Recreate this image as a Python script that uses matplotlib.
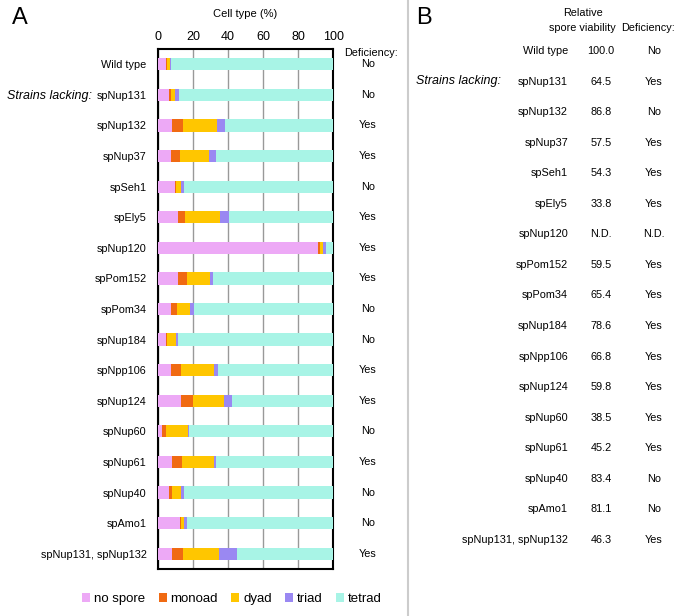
import matplotlib
matplotlib.use('Agg')
import matplotlib.pyplot as plt
from matplotlib.patches import Patch
from matplotlib.lines import Line2D
import matplotlib.transforms as mtransforms

plt.rcParams['font.family'] = ['Liberation Sans', 'DejaVu Sans']

strains = ['Wild type', 'spNup131', 'spNup132', 'spNup37', 'spSeh1', 'spEly5',
           'spNup120', 'spPom152', 'spPom34', 'spNup184', 'spNpp106', 'spNup124',
           'spNup60', 'spNup61', 'spNup40', 'spAmo1', 'spNup131, spNup132']

# panel A: cell types (%)
no_spore = [4.7, 6.5, 8.3, 7.4, 9.9, 11.4, 91.1, 11.4, 7.8, 4.6, 7.6, 13.1, 2.3, 8.0, 6.5, 12.7, 8.0]
monoad = [0.6, 1.3, 5.9, 5.3, 0.5, 4.2, 1.1, 5.3, 3.0, 0.5, 5.5, 6.8, 2.3, 5.7, 1.8, 0.6, 6.6]
dyad = [1.7, 2.3, 19.8, 16.7, 2.9, 20.1, 2.1, 12.9, 7.6, 5.3, 19.0, 17.9, 12.5, 18.4, 4.8, 1.9, 20.1]
triad = [0.4, 2.2, 4.5, 3.8, 1.5, 4.7, 1.3, 1.7, 2.3, 1.0, 2.2, 4.5, 0.9, 1.1, 1.9, 1.3, 10.3]
tetrad = [92.6, 87.7, 61.5, 66.8, 85.2, 59.6, 4.4, 68.7, 79.3, 88.6, 65.7, 57.7, 82.0, 66.8, 85.0, 83.5, 55.0]
deficiency_a = ['No', 'No', 'Yes', 'Yes', 'No', 'Yes', 'Yes', 'Yes', 'No', 'No', 'Yes',
                'Yes', 'No', 'Yes', 'No', 'No', 'Yes']

# panel B
viability = ['100.0', '64.5', '86.8', '57.5', '54.3', '33.8', 'N.D.', '59.5', '65.4',
             '78.6', '66.8', '59.8', '38.5', '45.2', '83.4', '81.1', '46.3']
deficiency_b = ['No', 'Yes', 'No', 'Yes', 'Yes', 'Yes', 'N.D.', 'Yes', 'Yes', 'Yes',
                'Yes', 'Yes', 'Yes', 'Yes', 'No', 'No', 'Yes']

cell_types = ['no spore', 'monoad', 'dyad', 'triad', 'tetrad']
colors = ['#EDA9F6', '#F06A12', '#FFC600', '#9A88F2', '#A8F4E6']

W, H = 691, 616
fig = plt.figure(figsize=(W / 100, H / 100), dpi=100)


def px(x, y):
    return x / W, 1 - y / H


n = len(strains)
ax_top, ax_bot = 49, 569
ax = fig.add_axes([157.7 / W, 1 - ax_bot / H, (333.3 - 157.7) / W, (ax_bot - ax_top) / H])

rows = list(range(n))
left = [0.0] * n
for vals, c, lab in zip([no_spore, monoad, dyad, triad, tetrad], colors, cell_types):
    ax.barh(rows, vals, left=left, height=0.4, color=c, label=lab, zorder=3)
    left = [l + v for l, v in zip(left, vals)]

ax.set_xlim(0, 100)
ax.set_ylim(n - 0.5, -0.5)
ax.xaxis.tick_top()
ax.set_xticks([0, 20, 40, 60, 80, 100])
ax.tick_params(axis='x', length=0, pad=4, labelsize=9)
ax.set_yticks(rows)
ax.set_yticklabels(strains)
ax.tick_params(axis='y', length=0, pad=8, labelsize=7.8)
ax.grid(axis='x', color='#999999', linewidth=1, zorder=0)
for s in ax.spines.values():
    s.set_linewidth(1.5)
    s.set_color('black')

fig.text(*px(245, 14), 'Cell type (%)', ha='center', va='center', fontsize=8)
fig.text(*px(20, 18), 'A', ha='center', va='center', fontsize=17)
fig.text(*px(7, 96), 'Strains lacking:', ha='left', va='center', fontsize=9, style='italic')

trans = mtransforms.blended_transform_factory(fig.transFigure, ax.transData)
fig.text(*px(371, 53), 'Deficiency:', ha='center', va='center', fontsize=7.8)
for i, d in enumerate(deficiency_a):
    ax.text(368 / W, i, d, transform=trans, ha='center', va='center', fontsize=7.8)

# divider
fig.add_artist(Line2D([408 / W, 408 / W], [0, 1], color='#cccccc', linewidth=1.5))

# panel B
fig.text(*px(424, 18), 'B', ha='center', va='center', fontsize=17)
fig.text(*px(583, 13), 'Relative', ha='center', va='center', fontsize=7.8)
fig.text(*px(582, 28), 'spore viability', ha='center', va='center', fontsize=7.8)
fig.text(*px(648, 28), 'Deficiency:', ha='center', va='center', fontsize=7.8)
fig.text(*px(416, 81), 'Strains lacking:', ha='left', va='center', fontsize=9, style='italic')
for i in range(n):
    y = 51 + i * 30.56
    fig.text(*px(568, y), strains[i], ha='right', va='center', fontsize=7.8)
    fig.text(*px(601, y), viability[i], ha='center', va='center', fontsize=7.8)
    fig.text(*px(654, y), deficiency_b[i], ha='center', va='center', fontsize=7.8)

handles = [Patch(facecolor=c, edgecolor='none') for c in colors]
fig.legend(handles, cell_types, loc='center', bbox_to_anchor=px(232, 599), ncol=5,
           frameon=False, fontsize=9.5, handlelength=0.6, handleheight=0.7,
           handletextpad=0.3, columnspacing=1.0)

fig.savefig('out.png', dpi=100)
